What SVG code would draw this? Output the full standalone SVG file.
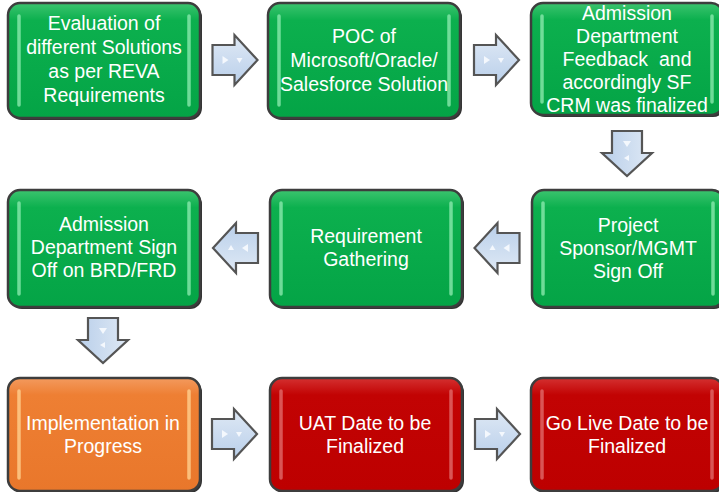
<svg xmlns="http://www.w3.org/2000/svg" width="719" height="492" viewBox="0 0 719 492">
<defs>
<linearGradient id="gG" x1="0" y1="0" x2="0" y2="1"><stop offset="0" stop-color="#3cc46f"/><stop offset="0.15" stop-color="#0cb04e"/><stop offset="1" stop-color="#04a446"/></linearGradient>
<linearGradient id="gO" x1="0" y1="0" x2="0" y2="1"><stop offset="0" stop-color="#f39a5e"/><stop offset="0.15" stop-color="#ee7f33"/><stop offset="1" stop-color="#e9772b"/></linearGradient>
<linearGradient id="gR" x1="0" y1="0" x2="0" y2="1"><stop offset="0" stop-color="#d43030"/><stop offset="0.15" stop-color="#c20303"/><stop offset="1" stop-color="#bd0000"/></linearGradient>
<linearGradient id="gA" x1="0" y1="0" x2="0" y2="1"><stop offset="0" stop-color="#dfe9f5"/><stop offset="1" stop-color="#b9cfea"/></linearGradient>
<path id="arr" d="M-22,-15 L0,-15 L0,-25 L23,0 L0,25 L0,15 L-22,15 Z"/>
</defs>
<style>
.sh{fill:#333}
.bx{stroke:#3d3d3d;stroke-width:2.5}
.g{fill:url(#gG)} .o{fill:url(#gO)} .r{fill:url(#gR)}
.hl{stroke-width:3.5;stroke-linecap:round;fill:none;opacity:0.8}
.hg{stroke:#8ae8ad} .ho{stroke:#ffd08f} .hr{stroke:#e06a6a}
text{font-family:"Liberation Sans",Arial,sans-serif;font-size:19.5px;fill:#fff;text-anchor:middle}
.a{fill:url(#gA);stroke:#555;stroke-width:2.2;stroke-linejoin:miter}
.tri{fill:#f4f8fd}
</style>
<g id="connectors">
<g transform="translate(234.5,60)"><use href="#arr" class="a"/><path class="tri" d="M-12,-4 L-6,0 L-12,4 Z"/><path class="tri" d="M2,-2 L8,-2 L5,3 Z"/></g>
<g transform="translate(496,60)"><use href="#arr" class="a"/><path class="tri" d="M-12,-4 L-6,0 L-12,4 Z"/><path class="tri" d="M2,-2 L8,-2 L5,3 Z"/></g>
<g transform="translate(627,153) rotate(90)"><use href="#arr" class="a"/><path class="tri" d="M-12,-4 L-6,0 L-12,4 Z"/><path class="tri" d="M2,-2 L8,-2 L5,3 Z"/></g>
<g transform="translate(497.5,248) rotate(180)"><use href="#arr" class="a"/><path class="tri" d="M-12,-4 L-6,0 L-12,4 Z"/><path class="tri" d="M2,-2 L8,-2 L5,3 Z"/></g>
<g transform="translate(236,248) rotate(180)"><use href="#arr" class="a"/><path class="tri" d="M-12,-4 L-6,0 L-12,4 Z"/><path class="tri" d="M2,-2 L8,-2 L5,3 Z"/></g>
<g transform="translate(103,340) rotate(90)"><use href="#arr" class="a"/><path class="tri" d="M-12,-4 L-6,0 L-12,4 Z"/><path class="tri" d="M2,-2 L8,-2 L5,3 Z"/></g>
<g transform="translate(234,434)"><use href="#arr" class="a"/><path class="tri" d="M-12,-4 L-6,0 L-12,4 Z"/><path class="tri" d="M2,-2 L8,-2 L5,3 Z"/></g>
<g transform="translate(497,434)"><use href="#arr" class="a"/><path class="tri" d="M-12,-4 L-6,0 L-12,4 Z"/><path class="tri" d="M2,-2 L8,-2 L5,3 Z"/></g>
</g>
<g id="n1">
<rect class="sh" x="10" y="5" width="192" height="115" rx="12"/>
<rect class="bx g" x="8" y="3" width="192" height="115" rx="12"/>
<path class="hl hg" d="M19,16 V105 M189,16 V105"/>
<text x="104" y="30">Evaluation of</text><text x="104" y="54">different Solutions</text><text x="104" y="78">as per REVA</text><text x="104" y="102">Requirements</text>
</g>
<g id="n2">
<rect class="sh" x="270" y="5" width="192" height="115" rx="12"/>
<rect class="bx g" x="268" y="3" width="192" height="115" rx="12"/>
<path class="hl hg" d="M279,16 V105 M449,16 V105"/>
<text x="364" y="43">POC of</text><text x="364" y="67">Microsoft/Oracle/</text><text x="364" y="91">Salesforce Solution</text>
</g>
<g id="n3">
<rect class="sh" x="533" y="5" width="192" height="112" rx="12"/>
<rect class="bx g" x="531" y="3" width="192" height="112" rx="12"/>
<path class="hl hg" d="M542,16 V102 M712,16 V102"/>
<text x="627" y="20">Admission</text><text x="627" y="43">Department</text><text x="627" y="66">Feedback&#160; and</text><text x="627" y="89">accordingly SF</text><text x="627" y="112">CRM was finalized</text>
</g>
<g id="n4">
<rect class="sh" x="10" y="192" width="192" height="117" rx="12"/>
<rect class="bx g" x="8" y="190" width="192" height="117" rx="12"/>
<path class="hl hg" d="M19,203 V294 M189,203 V294"/>
<text x="104" y="231">Admission</text><text x="104" y="254">Department Sign</text><text x="104" y="277">Off on BRD/FRD</text>
</g>
<g id="n5">
<rect class="sh" x="272" y="192" width="192" height="117" rx="12"/>
<rect class="bx g" x="270" y="190" width="192" height="117" rx="12"/>
<path class="hl hg" d="M281,203 V294 M451,203 V294"/>
<text x="366" y="243">Requirement</text><text x="366" y="266">Gathering</text>
</g>
<g id="n6">
<rect class="sh" x="534" y="192" width="192" height="117" rx="12"/>
<rect class="bx g" x="532" y="190" width="192" height="117" rx="12"/>
<path class="hl hg" d="M543,203 V294 M713,203 V294"/>
<text x="628" y="232">Project</text><text x="628" y="255">Sponsor/MGMT</text><text x="628" y="278">Sign Off</text>
</g>
<g id="n7">
<rect class="sh" x="10" y="380" width="192" height="113" rx="12"/>
<rect class="bx o" x="8" y="378" width="192" height="113" rx="12"/>
<path class="hl ho" d="M19,391 V478 M189,391 V478"/>
<text x="103" y="430">Implementation in</text><text x="103" y="453">Progress</text>
</g>
<g id="n8">
<rect class="sh" x="272" y="380" width="192" height="113" rx="12"/>
<rect class="bx r" x="270" y="378" width="192" height="113" rx="12"/>
<path class="hl hr" d="M281,391 V478 M451,391 V478"/>
<text x="365" y="430">UAT Date to be</text><text x="365" y="453">Finalized</text>
</g>
<g id="n9">
<rect class="sh" x="533" y="380" width="192" height="113" rx="12"/>
<rect class="bx r" x="531" y="378" width="192" height="113" rx="12"/>
<path class="hl hr" d="M542,391 V478 M712,391 V478"/>
<text x="627" y="430">Go Live Date to be</text><text x="627" y="453">Finalized</text>
</g>
</svg>
